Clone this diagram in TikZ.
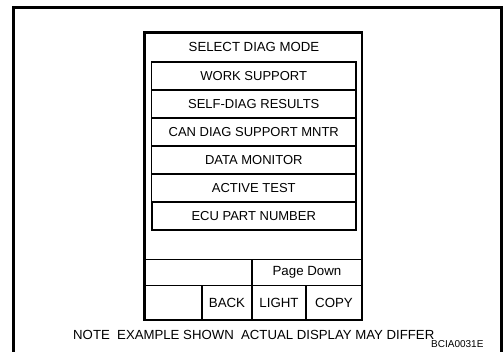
\documentclass[tikz,border=0pt]{standalone}
\usepackage{fontspec}
\setmainfont{Liberation Sans}
\usepackage{tikz}
\usetikzlibrary{positioning}

\begin{document}
\begin{tikzpicture}[
    x=1pt, y=-1pt,
    menuitem/.style={
        rectangle, draw, line width=1.2pt,
        minimum width=204.5pt, minimum height=28pt,
        inner sep=0pt, font=\fontsize{13}{15}\selectfont
    },
    softkey/.style={
        rectangle, draw, line width=1.5pt,
        minimum height=34.5pt, inner sep=0pt,
        font=\fontsize{13.3}{15}\selectfont
    },
    label/.style={inner sep=0pt, font=\fontsize{13.2}{15}\selectfont},
]
\useasboundingbox (0,0) rectangle (503,352);

% Outer frame (open at the bottom)
\coordinate (fbl) at (13.5,352);
\coordinate (ftl) at (13.5,7.5);
\coordinate (ftr) at (501.5,7.5);
\coordinate (fbr) at (501.5,352);
\draw[line width=3pt] (fbl) -- (ftl) -- (ftr) -- (fbr);

% Title
\node[label] (title) at (254,47) {SELECT DIAG MODE};

% ============ Menu ============
\node[menuitem] (work)   at (253.75,76)  {WORK SUPPORT};
\node[menuitem] (self)   at (253.75,104) {SELF-DIAG RESULTS};
\node[menuitem] (can)    at (253.75,132) {CAN DIAG SUPPORT MNTR};
\node[menuitem] (data)   at (253.75,160) {DATA MONITOR};
\node[menuitem] (active) at (253.75,188) {ACTIVE TEST};
\node[menuitem, line width=2pt] (ecu) at (253.75,216) {ECU PART NUMBER};

% ============ Soft keys ============
\node[softkey, minimum width=107.5pt, minimum height=26pt] (blankA) at (198.25,272.5) {};
\node[softkey, minimum width=110pt, minimum height=26pt] (pagedown) at (307,272.5) {Page Down};
\node[softkey, minimum width=57.5pt] (blankB) at (173.25,302.75) {};
\node[softkey, minimum width=50pt]   (back)   at (227,302.75)   {BACK};
\node[softkey, minimum width=54pt]   (light)  at (279,302.75)   {LIGHT};
\node[softkey, minimum width=56pt]   (copy)   at (334,302.75)   {COPY};

% Display housing
\draw[line width=2.5pt] (144.5,32.5) rectangle (362,320);

% Footnote
\node[label, anchor=base west] (note) at (73,340) {NOTE\ \ EXAMPLE SHOWN\ \ ACTUAL DISPLAY MAY DIFFER};
\node[inner sep=0pt, anchor=base west, font=\fontsize{10}{12}\selectfont] (code) at (431,348) {BCIA0031E};

\end{tikzpicture}
\end{document}
